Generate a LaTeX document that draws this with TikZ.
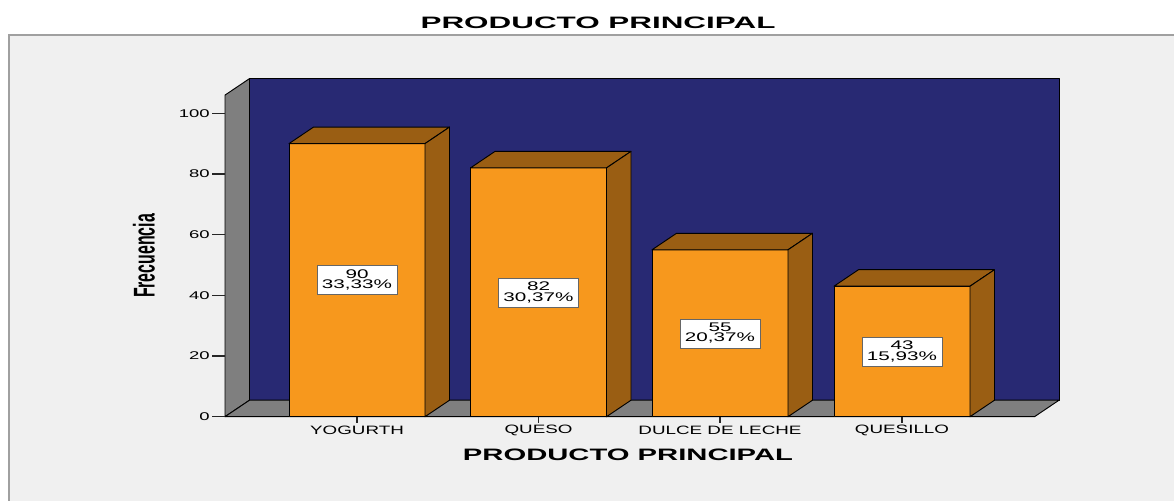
\documentclass[tikz,border=0pt]{standalone}
\usepackage{fontspec}
\setmainfont{Liberation Sans}
\newfontfamily\ejefont{Liberation Sans}[FakeStretch=1.55]
\newfontfamily\numfont{Liberation Sans}[FakeStretch=1.65]
\newfontfamily\titfont{Liberation Sans}[FakeStretch=1.9]
\newfontfamily\frecfont{Liberation Sans}[FakeStretch=0.53]
\definecolor{fondo}{HTML}{F0F0F0}
\definecolor{marco}{HTML}{A0A0A0}
\definecolor{pared}{HTML}{282973}
\definecolor{piso}{HTML}{7F7F7F}
\definecolor{naranja}{HTML}{F7981D}
\definecolor{cafe}{HTML}{9A5E13}

\begin{document}
\begin{tikzpicture}[x=0.75pt,y=-0.75pt]

\tikzstyle{cara}=[draw=black, line width=0.7pt, line join=round]
\tikzstyle{frente}=[cara, fill=naranja]
\tikzstyle{lado}=[cara, fill=cafe]
\tikzstyle{marca}=[draw=black!85, line width=0.8pt]
\tikzstyle{numy}=[anchor=east, inner sep=0pt, font=\numfont\fontsize{8.4}{10}\selectfont]
\tikzstyle{categ}=[inner sep=0pt, font=\ejefont\fontsize{9.1}{11}\selectfont]
\tikzstyle{valor}=[draw=black!60, fill=white, align=center, inner sep=0pt, minimum width=60pt, minimum height=21.75pt, font=\numfont\fontsize{9.4}{7.7}\selectfont]

\useasboundingbox (0,0) rectangle (1174,500);
\fill[white] (0,0) rectangle (1174,500);
\filldraw[fill=fondo, draw=marco, line width=0.8pt] (9,35) rectangle (1190,520);

\node (titulo) [inner sep=0pt, font=\titfont\bfseries\fontsize{12.4}{14}\selectfont] at (598,22.5) {PRODUCTO PRINCIPAL};

% paredes y piso
\filldraw[fill=pared, cara] (249.5,78.6) rectangle (1059,400.2);
\filldraw[fill=piso, cara] (225,95.1) -- (249.5,78.6) -- (249.5,400.2) -- (225,416.7) -- cycle;
\filldraw[fill=piso, cara] (225,416.7) -- (249.5,400.2) -- (1059,400.2) -- (1034.5,416.7) -- cycle;

% eje y
\draw[marca] (212,416.7) -- (225,416.7);
\draw[marca] (212,356.0) -- (225,356.0);
\draw[marca] (212,295.3) -- (225,295.3);
\draw[marca] (212,234.7) -- (225,234.7);
\draw[marca] (212,174.0) -- (225,174.0);
\draw[marca] (212,113.3) -- (225,113.3);
\node (y0) [numy] at (210,416.7) {0};
\node (y20) [numy] at (210,356.0) {20};
\node (y40) [numy] at (210,295.3) {40};
\node (y60) [numy] at (210,234.7) {60};
\node (y80) [numy] at (210,174.0) {80};
\node (y100) [numy] at (210,113.3) {100};

\node (frec) [rotate=90, inner sep=0pt, font=\frecfont\bfseries\fontsize{22.5}{24}\selectfont] at (144,256) {Frecuencia};

% barras
\filldraw[frente] (289,416.7) rectangle (425,143.6);
\filldraw[lado] (289,143.6) -- ++(24.5,-16.5) -- ++(136,0) -- ++(-24.5,16.5) -- cycle;
\filldraw[lado] (425,416.7) -- ++(24.5,-16.5) -- (449.5,127.1) -- (425,143.6) -- cycle;

\filldraw[frente] (470.5,416.7) rectangle (606.5,167.9);
\filldraw[lado] (470.5,167.9) -- ++(24.5,-16.5) -- ++(136,0) -- ++(-24.5,16.5) -- cycle;
\filldraw[lado] (606.5,416.7) -- ++(24.5,-16.5) -- (631,151.4) -- (606.5,167.9) -- cycle;

\filldraw[frente] (652,416.7) rectangle (788,249.8);
\filldraw[lado] (652,249.8) -- ++(24.5,-16.5) -- ++(136,0) -- ++(-24.5,16.5) -- cycle;
\filldraw[lado] (788,416.7) -- ++(24.5,-16.5) -- (812.5,233.3) -- (788,249.8) -- cycle;

\filldraw[frente] (834,416.7) rectangle (970,286.2);
\filldraw[lado] (834,286.2) -- ++(24.5,-16.5) -- ++(136,0) -- ++(-24.5,16.5) -- cycle;
\filldraw[lado] (970,416.7) -- ++(24.5,-16.5) -- (994.5,269.7) -- (970,286.2) -- cycle;

\node (v1) [valor] at (357,280.2) {90\\33,33\%};
\node (v2) [valor] at (538.5,292.3) {82\\30,37\%};
\node (v3) [valor] at (720,333.3) {55\\20,37\%};
\node (v4) [valor] at (902,351.5) {43\\15,93\%};

% eje x
\draw[marca] (357,416.7) -- (357,423);
\draw[marca] (538.5,416.7) -- (538.5,423);
\draw[marca] (720,416.7) -- (720,423);
\draw[marca] (902,416.7) -- (902,423);
\node (c1) [categ] at (357,430.5) {YOGURTH};
\node (c2) [categ] at (538.5,430.5) {QUESO};
\node (c3) [categ] at (720,430.5) {DULCE DE LECHE};
\node (c4) [categ] at (902,430.5) {QUESILLO};

\node (ejex) [inner sep=0pt, font=\titfont\bfseries\fontsize{12.4}{14}\selectfont, xscale=0.93] at (628,454.5) {PRODUCTO PRINCIPAL};

\end{tikzpicture}
\end{document}
